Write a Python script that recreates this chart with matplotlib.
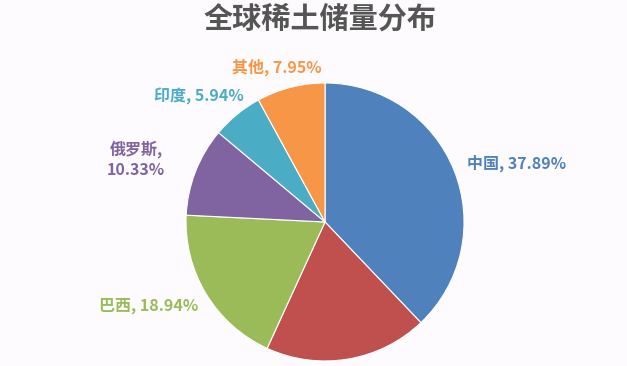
import matplotlib
matplotlib.use("Agg")
import matplotlib.pyplot as plt

plt.rcParams['font.family'] = ['Noto Sans CJK SC', 'DejaVu Sans']

countries = ["中国", "", "巴西", "俄罗斯", "印度", "其他"]
shares = [37.89, 18.95, 18.94, 10.33, 5.94, 7.95]
colors = ["#4F81BD", "#C0504D", "#9BBB59", "#8064A2", "#4BACC6", "#F79646"]

# label placement (data units, pie radius = 1)
label_pos = {
    "中国": (1.02, 0.42, "left"),
    "巴西": (-1.27, -0.60, "center"),
    "俄罗斯": (-1.36, 0.45, "center"),
    "印度": (-0.91, 0.90, "center"),
    "其他": (-0.35, 1.115, "center"),
}

fig = plt.figure(figsize=(6.27, 3.66), dpi=100, facecolor="#fdfbfd")
ax = fig.add_axes([0.2967, 0.0137, 0.4434, 0.7596])
ax.set_facecolor("#fdfbfd")

wedges, _ = ax.pie(shares, colors=colors, startangle=90, counterclock=False,
                   wedgeprops=dict(edgecolor="white", linewidth=0.8))
ax.set_xlim(-1, 1); ax.set_ylim(-1, 1)
ax.set_aspect("equal")

for name, val, col in zip(countries, shares, colors):
    if not name:
        continue
    x, y, ha = label_pos[name]
    txt = f"{name},\n{val:.2f}%" if name == "俄罗斯" else f"{name}, {val:.2f}%"
    ax.text(x, y, txt, color=col, fontsize=11.5, fontweight="bold",
            ha=ha, va="center", linespacing=1.3, clip_on=False)

fig.text(0.51, 0.95, "全球稀土储量分布", ha="center", va="center",
         fontsize=21, fontweight="bold", color="#555555")

fig.savefig("out.png", dpi=100, facecolor=fig.get_facecolor())
